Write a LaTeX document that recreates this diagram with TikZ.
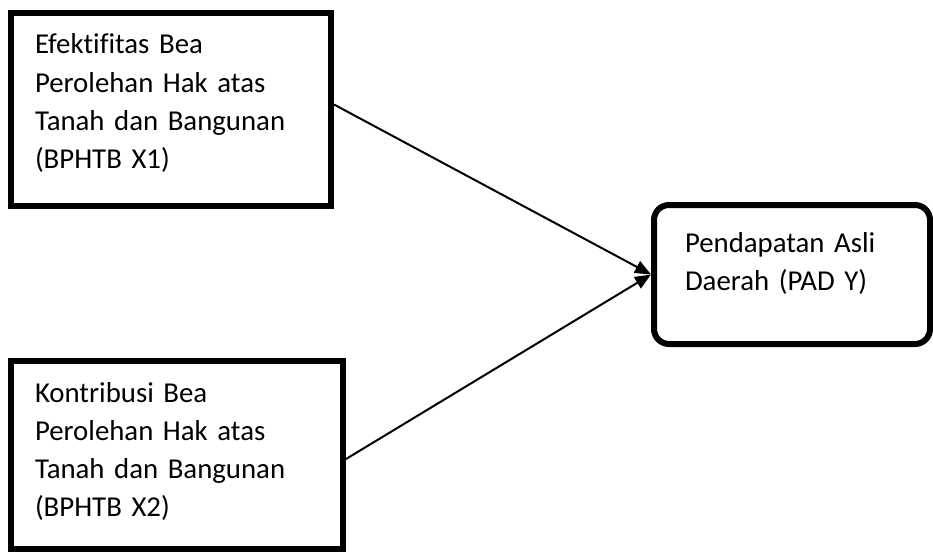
\documentclass[tikz,border=0pt]{standalone}
\usepackage{fontspec}
\setmainfont{Carlito}[Ligatures=CommonOff]
\usetikzlibrary{positioning,arrows.meta}
\tikzset{
  >={Triangle[length=16pt,width=13pt]},
  varbox/.style={draw, line width=6pt, anchor=north west, align=left,
    inner xsep=24pt, inner ysep=0pt, text height=41pt,
    font=\fontsize{28.8}{38}\selectfont},
}

\begin{document}
\begin{tikzpicture}[
  x=1pt, y=-1pt,
  link/.style={draw, line width=2pt, ->}
]
\useasboundingbox (0,0) rectangle (933,551);

\node[varbox, text width=272pt, text depth=152pt] (x1) at (8,10)
  {Efektifitas Bea\\Perolehan Hak atas\\Tanah dan Bangunan\\(BPHTB X1)};
\node[varbox, text width=284pt, text depth=147pt] (x2) at (8,358)
  {Kontribusi Bea\\Perolehan Hak atas\\Tanah dan Bangunan\\(BPHTB X2)};
\node[varbox, rounded corners=15pt, inner xsep=31pt, text width=214pt,
  text height=47pt, text depth=92pt] (pad) at (651,202)
  {Pendapatan Asli\\Daerah (PAD Y)};

\draw[link] ([yshift=5pt]x1.east) -- (pad.west);
\draw[link] ([yshift=-4pt]x2.east) -- (pad.west);
\end{tikzpicture}
\end{document}
